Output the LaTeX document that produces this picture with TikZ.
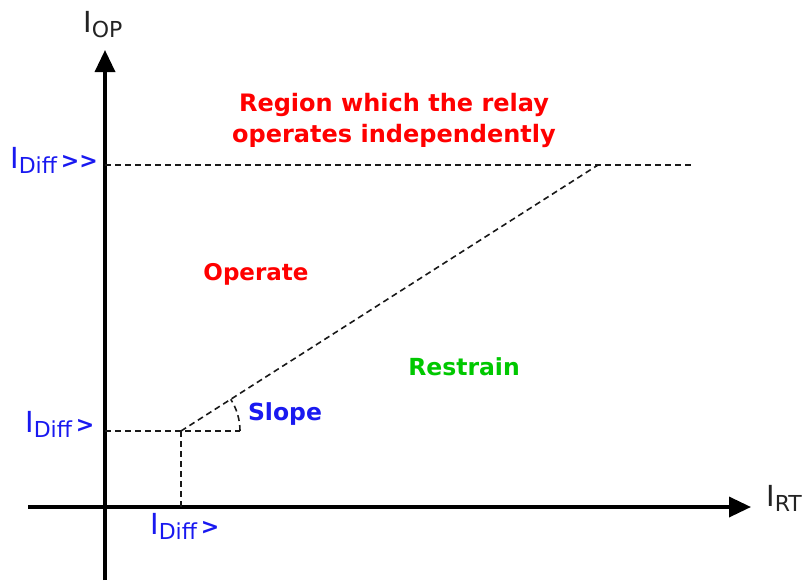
\documentclass[tikz,border=0pt]{standalone}
\usepackage{fontspec}
\setmainfont{DejaVu Sans}
\usetikzlibrary{arrows.meta}
\definecolor{lblblue}{RGB}{25,25,240}
\definecolor{rred}{RGB}{255,0,0}
\definecolor{rgreen}{RGB}{0,200,0}
\definecolor{axgray}{RGB}{35,35,35}
\newcommand{\Ilab}[2]{{\fontsize{29}{29}\selectfont I}\raisebox{-5pt}{\fontsize{22}{22}\selectfont #1}#2}
\newcommand{\gtsym}{{\bfseries\fontsize{22}{22}\selectfont >}}
\begin{document}
\begin{tikzpicture}[x=1pt,y=-1pt,
  axis/.style={line width=3.5pt, black, -{Triangle[length=22pt,width=20pt]}},
  dashline/.style={line width=1.6pt, black!90, dash pattern=on 6pt off 4pt},
  lbl/.style={inner sep=0pt, anchor=base west, text=lblblue},
  region/.style={inner sep=0pt, anchor=base, font=\bfseries\fontsize{24}{24}\selectfont}]
\useasboundingbox (0,0) rectangle (808,584);
% key points
\coordinate (ybot) at (105,580);
\coordinate (ytop) at (105,50);
\coordinate (xleft) at (28,507);
\coordinate (xright) at (751,507);
\coordinate (hiY) at (105,165);
\coordinate (hiEnd) at (692,165);
\coordinate (knee) at (181,431);
\coordinate (top) at (598,165);
\coordinate (loY) at (105,431);
\coordinate (kneeX) at (181,507);
\coordinate (slopeR) at (240,431);
% axes
\draw[axis] (ybot) -- (ytop);
\draw[axis] (xleft) -- (xright);
% dashed lines
\draw[dashline] (hiY) -- (hiEnd);
\draw[dashline] (knee) -- (top);
\draw[dashline] (loY) -- (knee) -- (slopeR);
\draw[dashline] (knee) -- (kneeX);
\draw[dashline] (slopeR) arc[start angle=0, end angle=-32.5, radius=59];
% axis labels
\node[lbl, text=axgray] (iop) at (83,32) {\Ilab{OP}{}};
\node[lbl, text=axgray] (irt) at (766,506) {\Ilab{RT}{}};
\node[lbl] (idhi) at (10,168) {\Ilab{Diff}{\hspace{4pt}\gtsym\kern0pt\gtsym}};
\node[lbl] (idlo) at (25,432) {\Ilab{Diff}{\hspace{4pt}\gtsym}};
\node[lbl] (idx) at (150,534) {\Ilab{Diff}{\hspace{4pt}\gtsym}};
% region texts
\node[region, text=rred] (reg1) at (394,111) {Region which the relay};
\node[region, text=rred] (reg2) at (394,142) {operates independently};
\node[region, text=rred, font=\bfseries\fontsize{23}{23}\selectfont] (op) at (256,280) {Operate};
\node[region, text=rgreen, font=\bfseries\fontsize{23.5}{23.5}\selectfont] (rs) at (464,375) {Restrain};
\node[region, text=lblblue, font=\bfseries\fontsize{23.5}{23.5}\selectfont] (sl) at (285,420) {Slope};
\end{tikzpicture}
\end{document}
